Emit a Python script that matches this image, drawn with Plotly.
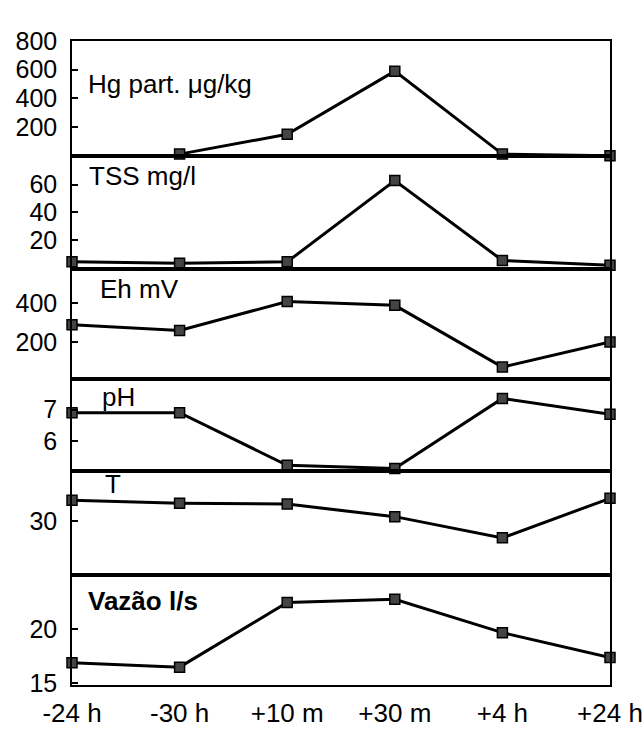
import plotly.graph_objects as go

categories = ["-24 h", "-30 h", "+10 m", "+30 m", "+4 h", "+24 h"]
hg = [None, 12, 150, 590, 12, 0]
tss = [4, 3, 4, 63, 5, 1.5]
eh = [290, 260, 410, 390, 70, 200]
ph = [6.9, 6.9, 5.25, 5.15, 7.35, 6.85]
temp = [32.2, 31.9, 31.8, 30.5, 28.3, 32.4]
vazao = [16.9, 16.5, 22.5, 22.8, 19.7, 17.4]

series = [hg, tss, eh, ph, temp, vazao]
labels = ["Hg part. \u03bcg/kg", "TSS mg/l", "Eh mV", "pH", "T", "<b>Vaz\u00e3o l/s</b>"]
label_pos = [(86, 73), (87, 168), (98, 285), (100, 397), (103, 487), (86, 608)]
ranges = [[0, 800], [-1, 81], [10, 580], [5.06, 7.97], [24.4, 35.2], [14.8, 25]]
tickvals = [[200, 400, 600, 800], [20, 40, 60], [200, 400], [6, 7], [30], [15, 20]]
bounds = [(28, 147), (147, 264), (264, 378), (378, 474), (474, 582), (582, 696)]

W, H = 643, 738
FONT = "Liberation Sans, Arial, sans-serif"

fig = go.Figure()
layout = dict(
    width=W, height=H,
    margin=dict(l=72, r=31, t=0, b=0),
    paper_bgcolor="white", plot_bgcolor="white",
    showlegend=False,
    font=dict(family=FONT, color="black"),
)
annotations = []
for i, (vals, rng, tv, (top, bot)) in enumerate(zip(series, ranges, tickvals, bounds)):
    n = i + 1
    xa = "x" if n == 1 else f"x{n}"
    ya = "y" if n == 1 else f"y{n}"
    fig.add_trace(go.Scatter(
        x=categories, y=vals, xaxis=xa, yaxis=ya, mode="lines+markers",
        line=dict(color="black", width=3),
        marker=dict(symbol="square", size=10, color="#444", line=dict(color="black", width=1.5)),
        cliponaxis=False, connectgaps=False,
    ))
    dom = [1 - bot / H, 1 - top / H]
    xkey = "xaxis" if n == 1 else f"xaxis{n}"
    ykey = "yaxis" if n == 1 else f"yaxis{n}"
    last = n == 6
    layout[xkey] = dict(
        type="category", range=[0, 5], anchor=ya, domain=[0, 1],
        showline=True, mirror=True, linecolor="black", linewidth=1.5,
        showgrid=False, zeroline=False, ticks="",
        showticklabels=last, ticklabelstandoff=4,
        tickfont=dict(size=26, family=FONT, color="black"),
        matches=None if n == 1 else "x",
    )
    layout[ykey] = dict(
        range=rng, domain=dom, anchor=xa,
        showline=True, mirror=True, linecolor="black", linewidth=1.5,
        showgrid=False, zeroline=False,
        ticks="inside", ticklen=6, tickwidth=2, tickcolor="black",
        tickvals=tv, ticklabelstandoff=8,
        tickfont=dict(size=25, family=FONT, color="black"),
    )
    lx, ly = label_pos[i]
    annotations.append(dict(
        text=labels[i], xref="paper", yref="paper",
        x=(lx - 72) / 540, y=1 - ly / H, xanchor="left", yanchor="middle",
        showarrow=False, font=dict(size=26, family=FONT, color="black"),
    ))
layout["annotations"] = annotations
fig.update_layout(**layout)
fig.write_html("out.html")
